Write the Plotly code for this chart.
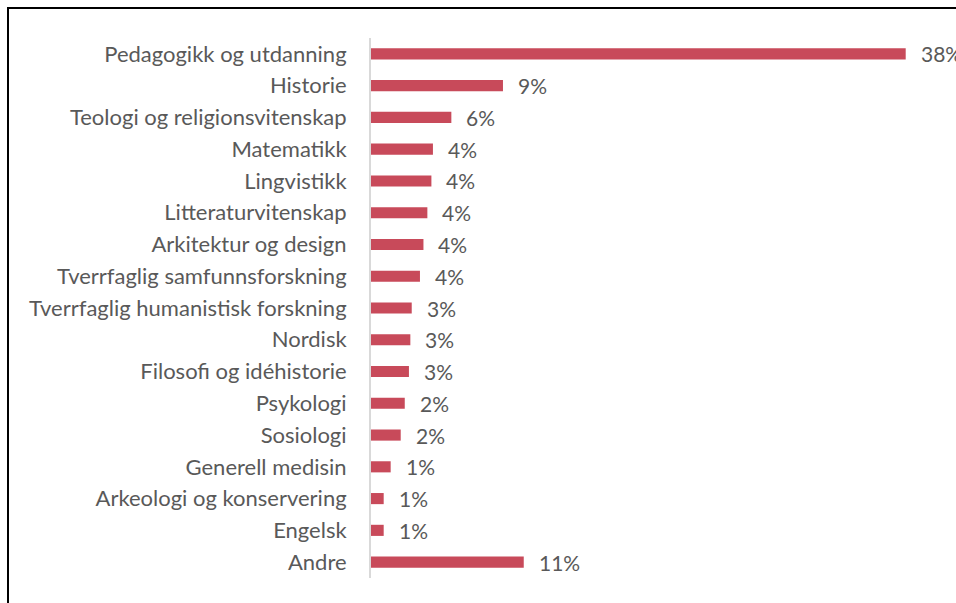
import plotly.graph_objects as go

# Fagområder og andel (%)
categories = [
    "Pedagogikk og utdanning",
    "Historie",
    "Teologi og religionsvitenskap",
    "Matematikk",
    "Lingvistikk",
    "Litteraturvitenskap",
    "Arkitektur og design",
    "Tverrfaglig samfunnsforskning",
    "Tverrfaglig humanistisk forskning",
    "Nordisk",
    "Filosofi og idéhistorie",
    "Psykologi",
    "Sosiologi",
    "Generell medisin",
    "Arkeologi og konservering",
    "Engelsk",
    "Andre",
]
shares = [38.33, 9.46, 5.76, 4.44, 4.33, 4.04, 3.76, 3.51, 2.92, 2.82, 2.72,
          2.42, 2.13, 1.41, 0.91, 0.91, 10.95]

W, H = 956, 603
ML, MR, MT, MB = 371, 16, 38, 25
PX_PER_PCT = 13.95
x_max = (W - ML - MR) / PX_PER_PCT

BAR_COLOR = "#C84A5A"
TEXT_COLOR = "#595959"
FONT = "Lato"
FS = 22

fig = go.Figure(
    go.Bar(
        x=shares,
        y=categories,
        orientation="h",
        marker=dict(color=BAR_COLOR, line=dict(width=0)),
        hovertemplate="%{y}: %{x:.0f}%<extra></extra>",
    )
)

# Verdietiketter til høyre for stolpene
for c, v in zip(categories, shares):
    fig.add_annotation(
        x=v, y=c, text=f"{v:.0f}%", showarrow=False,
        xanchor="left", yanchor="middle", xshift=13,
        font=dict(family=FONT, size=21, color=TEXT_COLOR),
    )

# Ramme rundt diagrammet (venstre og øvre kant synlig)
pw, ph = W - ML - MR, H - MT - MB
fig.add_shape(
    type="rect", xref="paper", yref="paper",
    x0=(8 - ML) / pw, x1=(W + 40 - ML) / pw,
    y0=(H - MB - 8) / ph, y1=(H - MB - (H + 40)) / ph,
    line=dict(color="black", width=2), fillcolor="rgba(0,0,0,0)",
    layer="above",
)

fig.update_layout(
    width=W, height=H,
    margin=dict(l=ML, r=MR, t=MT, b=MB, pad=0),
    paper_bgcolor="white", plot_bgcolor="white",
    bargap=0.65,
    showlegend=False,
    xaxis=dict(range=[0, x_max], visible=False, fixedrange=True),
    yaxis=dict(
        autorange="reversed",
        showline=True, linecolor="#D9D9D9", linewidth=2,
        showgrid=False, zeroline=False,
        ticks="", ticklabelstandoff=18,
        tickfont=dict(family=FONT, size=FS, color=TEXT_COLOR),
        fixedrange=True,
    ),
)

fig.write_html("out.html")
